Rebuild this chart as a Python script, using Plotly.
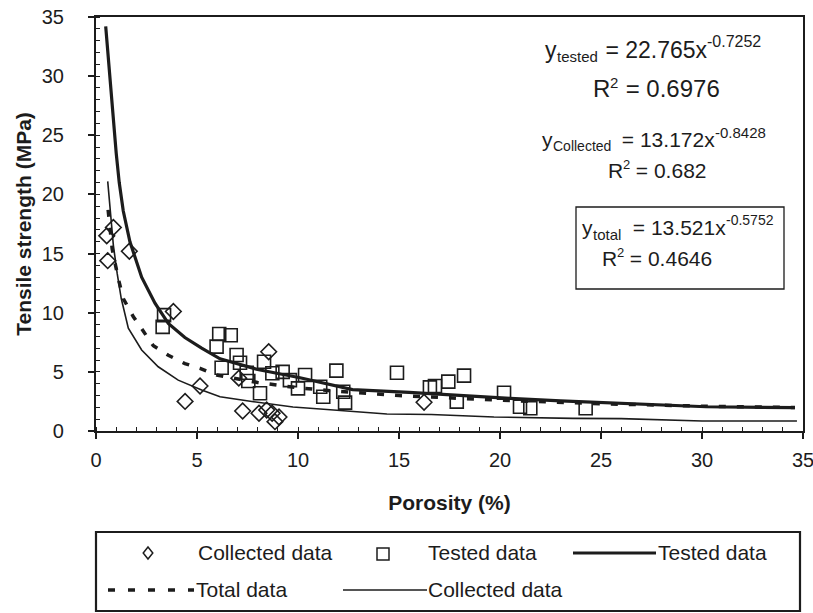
import plotly.graph_objects as go

# ---------------- data ----------------
collected_x = [0.53, 0.86, 0.58, 1.65, 3.83, 4.41, 5.15, 7.26, 8.07, 8.45, 8.72, 8.86, 9.06, 8.55, 7.07, 16.24]
collected_y = [16.5, 17.2, 14.4, 15.2, 10.1, 2.5, 3.8, 1.69, 1.5, 1.78, 1.5, 0.79, 1.18, 6.7, 4.47, 2.43]

tested_x = [3.37, 3.3, 6.1, 6.67, 5.97, 6.96, 7.13, 6.22, 7.46, 7.54, 8.32, 8.12, 8.73, 9.24, 9.6, 10.0,
            10.35, 11.1, 11.25, 11.9, 12.24, 12.33, 14.9, 16.53, 16.78, 17.44, 18.22, 17.86, 20.2, 20.99,
            21.5, 24.24]
tested_y = [9.8, 8.8, 8.2, 8.1, 7.13, 6.42, 5.77, 5.35, 4.93, 4.23, 5.86, 3.19, 4.88, 5.0, 4.3, 3.6,
            4.73, 3.74, 2.9, 5.1, 3.32, 2.4, 4.93, 3.69, 3.8, 4.17, 4.68, 2.48, 3.24, 2.05,
            1.92, 1.92]

fit_tested_x = [0.48, 0.65, 0.81, 1.0, 1.15, 1.35, 1.68, 2.26, 2.92, 3.58, 4.4, 5.23, 6.14, 6.9, 8.0,
                10.1, 12.7, 15.5, 18.0, 20.5, 23.0, 25.45, 27.0, 30.2, 34.6]
fit_tested_y = [34.2, 30.5, 27.0, 23.5, 21.0, 18.6, 16.0, 13.0, 10.8, 9.1, 7.9, 7.0, 6.1, 5.75, 5.2,
                4.5, 3.5, 3.27, 3.0, 2.76, 2.55, 2.39, 2.25, 2.05, 1.97]

fit_total_x = [0.6, 0.8, 1.1, 1.35, 1.85, 2.34, 2.84, 3.58, 4.4, 5.15, 5.97, 8.0, 10.0, 12.0, 15.0, 20.0,
               25.0, 30.0, 34.6]
fit_total_y = [18.7, 15.4, 12.9, 11.2, 9.66, 8.4, 7.2, 6.4, 5.7, 5.3, 4.73, 4.1, 3.65, 3.35, 3.0, 2.6,
               2.3, 2.1, 1.98]

fit_collected_x = [0.58, 0.72, 0.86, 1.05, 1.25, 1.6, 2.26, 3.08, 4.07, 5.23, 6.14, 7.8, 9.75, 11.1, 12.7,
                   14.4, 16.6, 19.7, 23.6, 26.0, 30.0, 34.7]
fit_collected_y = [21.1, 18.0, 15.7, 13.3, 11.2, 8.7, 6.85, 5.43, 4.3, 3.47, 2.9, 2.48, 2.03, 1.86, 1.63,
                   1.44, 1.4, 1.18, 1.07, 1.05, 0.85, 0.85]

x_ticks = [0, 5, 10, 15, 20, 25, 30, 35]
y_ticks = [0, 5, 10, 15, 20, 25, 30, 35]

eq_tested = ("y", "tested", " = 22.765x", "-0.7252", "0.6976")
eq_collected = ("y", "Collected", " = 13.172x", "-0.8428", "0.682")
eq_total = ("y", "total", " = 13.521x", "-0.5752", "0.4646")

legend_labels = ["Collected data", "Tested data", "Tested data", "Total data", "Collected data"]

# ---------------- figure ----------------
FONT = "Arial, 'Liberation Sans', sans-serif"
INK = "#1c1c1c"
W, H = 820, 613          # page window is 813 wide; the last tick label is cut at the edge as in the reference
L, R, T, B = 96, 803, 17, 431


def X(px):
    return (px - L) / (R - L)


def Y(py):
    return (B - py) / (B - T)


# approximate Arial advance widths (em units), used only to lay text pieces side by side
ADV = {"0": .556, "1": .556, "2": .556, "3": .556, "4": .556, "5": .556, "6": .556, "7": .556,
       "8": .556, "9": .556, ".": .278, "-": .333, "=": .584, " ": .278, "x": .5, "y": .5, "R": .722,
       "t": .278, "e": .556, "s": .5, "d": .556, "C": .722, "o": .556, "l": .222, "c": .5, "a": .556}


def text_w(s, size):
    return sum(ADV.get(ch, .556) for ch in s) * size


fig = go.Figure()

fig.add_trace(go.Scatter(x=fit_collected_x, y=fit_collected_y, mode="lines", name=legend_labels[4],
                         line=dict(color=INK, width=1.6), showlegend=False))
fig.add_trace(go.Scatter(x=fit_total_x, y=fit_total_y, mode="lines", name=legend_labels[3],
                         line=dict(color=INK, width=3.5, dash="7px,11px"), showlegend=False))
fig.add_trace(go.Scatter(x=fit_tested_x, y=fit_tested_y, mode="lines", name=legend_labels[2],
                         line=dict(color=INK, width=3.2), showlegend=False))
fig.add_trace(go.Scatter(x=collected_x, y=collected_y, mode="markers", name=legend_labels[0],
                         marker=dict(symbol="diamond-open", size=12, color=INK, line=dict(width=1.6)),
                         showlegend=False))
fig.add_trace(go.Scatter(x=tested_x, y=tested_y, mode="markers", name=legend_labels[1],
                         marker=dict(symbol="square-open", size=13, color=INK, line=dict(width=1.6)),
                         showlegend=False))

anns = []


def pieces(x0, yc, parts):
    """parts: list of (text, size, dy, gap_before)"""
    x = x0
    for txt, size, dy, gap in parts:
        x += gap
        anns.append(dict(x=X(x), y=Y(yc - 2 + dy), text=txt, xanchor="left", yanchor="middle",
                         font=dict(size=size)))
        x += text_w(txt, size)


def equation(e, x0, yc, main, sub, sup, sub_dy, sup_dy, gap, rx0, ryc, rmain, rsup):
    y, s, coef, ex, r2 = e
    pieces(x0, yc, [(y, main, 0, 0), (s, sub, sub_dy, 0), (coef, main, 0, gap), (ex, sup, sup_dy, 0)])
    pieces(rx0, ryc, [("R", rmain, 0, 0), ("2", rsup, -6, 0), (" = " + r2, rmain, 0, 0)])


equation(eq_tested, 545, 52, 23, 15, 16, 7, -9, 2, 593, 90, 24, 15)
equation(eq_collected, 542, 141, 21, 14, 15, 7, -7, 5, 608, 172, 21, 13)
equation(eq_total, 582, 229, 21, 15, 14, 7, -7, 6, 602, 260, 21, 13)

# legend texts
leg_font = dict(size=21)
anns.append(dict(x=X(198), y=Y(552), text=legend_labels[0], xanchor="left", font=leg_font))
anns.append(dict(x=X(428), y=Y(552), text=legend_labels[1], xanchor="left", font=leg_font))
anns.append(dict(x=X(658), y=Y(552), text=legend_labels[2], xanchor="left", font=leg_font))
anns.append(dict(x=X(196), y=Y(589), text=legend_labels[3], xanchor="left", font=leg_font))
anns.append(dict(x=X(428), y=Y(589), text=legend_labels[4], xanchor="left", font=leg_font))

for a in anns:
    a.update(xref="paper", yref="paper", showarrow=False, borderpad=0, borderwidth=0)
    a.setdefault("xanchor", "center")
    a.setdefault("yanchor", "middle")
    a["font"] = dict(family=FONT, color=INK, **a["font"])

shapes = []
# box around total equation
shapes.append(dict(type="rect", xref="paper", yref="paper", x0=X(576), x1=X(784), y0=Y(207), y1=Y(289),
                   line=dict(color=INK, width=1.3)))
# legend box
shapes.append(dict(type="rect", xref="paper", yref="paper", x0=X(96), x1=X(800), y0=Y(532), y1=Y(611),
                   line=dict(color=INK, width=2.2)))
# legend symbols
cx, cy, d = 148, 553, 6
shapes.append(dict(type="path", xref="paper", yref="paper",
                   path=f"M {X(cx)},{Y(cy - d)} L {X(cx + d * 0.8)},{Y(cy)} L {X(cx)},{Y(cy + d)} L {X(cx - d * 0.8)},{Y(cy)} Z",
                   line=dict(color=INK, width=1.5)))
sx, sy, s = 383, 554, 6
shapes.append(dict(type="rect", xref="paper", yref="paper", x0=X(sx - s), x1=X(sx + s), y0=Y(sy + s), y1=Y(sy - s),
                   line=dict(color=INK, width=1.5)))
shapes.append(dict(type="line", xref="paper", yref="paper", x0=X(573), x1=X(656), y0=Y(553), y1=Y(553),
                   line=dict(color=INK, width=3.2)))
shapes.append(dict(type="line", xref="paper", yref="paper", x0=X(108), x1=X(194), y0=Y(590), y1=Y(590),
                   line=dict(color=INK, width=3.5, dash="7px,13px")))
shapes.append(dict(type="line", xref="paper", yref="paper", x0=X(343), x1=X(427), y0=Y(590), y1=Y(590),
                   line=dict(color=INK, width=1.6)))

axis_common = dict(
    range=[0, 35], showline=True, linecolor=INK, linewidth=2.2, mirror=True, automargin=False,
    showgrid=False, zeroline=False, ticks="outside", ticklen=6, tickwidth=1.5, tickcolor=INK,
    minor=dict(ticks="inside", ticklen=4, tickwidth=1, tickcolor=INK, dtick=1),
    tickfont=dict(family=FONT, size=20, color=INK), fixedrange=True,
)

fig.update_layout(
    width=W, height=H,
    margin=dict(l=L, r=W - R, t=T, b=H - B, pad=0),
    paper_bgcolor="white", plot_bgcolor="white",
    showlegend=False,
    xaxis=dict(axis_common, tickvals=x_ticks, ticktext=[str(v) for v in x_ticks],
               title=dict(text="<b>Porosity (%)</b>", font=dict(family=FONT, size=21, color=INK), standoff=25),
               ticklabelstandoff=4),
    yaxis=dict(axis_common, tickvals=y_ticks, ticktext=[str(v) for v in y_ticks],
               title=dict(text="<b>Tensile strength (MPa)</b>", font=dict(family=FONT, size=21, color=INK), standoff=4),
               ticklabelstandoff=20),
    annotations=anns,
    shapes=shapes,
)

fig.write_html("out.html", config={"displayModeBar": False},
               post_script="document.body.style.margin='0';document.body.style.overflow='hidden';")
